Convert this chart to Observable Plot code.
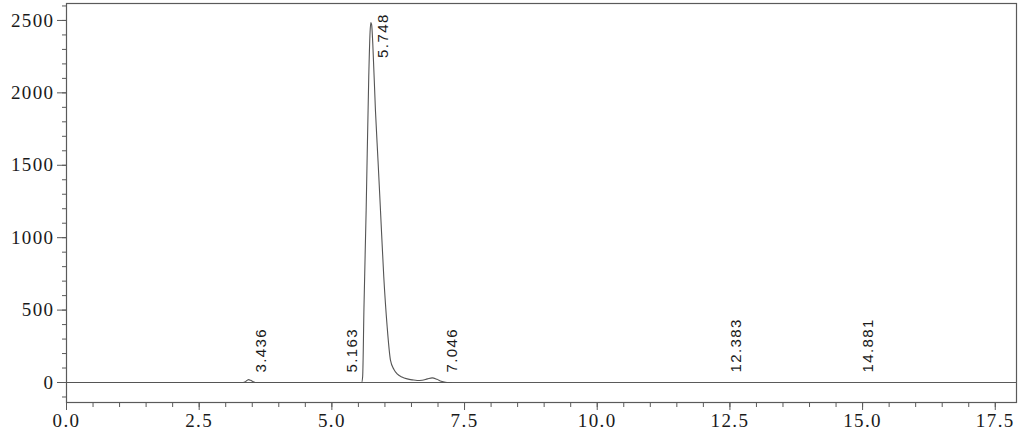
<!DOCTYPE html>
<html>
<head>
<meta charset="utf-8">
<script src="https://cdn.jsdelivr.net/npm/d3@7"></script>
<script src="https://cdn.jsdelivr.net/npm/@observablehq/plot@0.6"></script>
<style>
  html, body { margin: 0; padding: 0; background: #ffffff; }
  #chart svg text { letter-spacing: 1.4px; }
  #chart svg g[aria-label="x-axis tick label"],
  #chart svg g[aria-label="y-axis tick label"] {
    font-family: "Liberation Serif", "DejaVu Serif", serif !important;
    font-size: 19px !important;
  }
</style>
</head>
<body>
<div id="chart"></div>
<script>
// Chromatogram trace: retention time (min) and detector signal
const times  = [0.00, 3.30, 3.36, 3.40, 3.43, 3.47, 3.52, 3.58, 5.56, 5.58, 5.605, 5.646, 5.695, 5.72, 5.735, 5.75, 5.771, 5.821, 5.87, 5.916, 5.978, 6.042, 6.104, 6.17, 6.23, 6.32, 6.42, 6.52, 6.607, 6.70, 6.80, 6.89, 6.98, 7.06, 7.17, 7.25];
const signal = [0,    0,    4,    14,   20,   15,   5,    0,    0,    40,   520,   1190,  2110,  2420, 2485,  2470, 2340,  1880,  1530, 1190,  730,   385,   155,   90,   60,   38,   25,   18,   14,    16,   25,   32,   22,   8,    0,    0];

// Peak annotations (retention times)
const peakTimes  = [3.436, 5.163, 5.748, 7.046, 12.383, 14.881];
const peakLabels = ["3.436", "5.163", "5.748", "7.046", "12.383", "14.881"];
const mainPeakTime = 5.748;
const mainPeakHeight = 2480;

// Axis ticks
const xMajorTicks = [0, 2.5, 5, 7.5, 10, 12.5, 15, 17.5];
const xMinorTicks = d3.range(0, 17.51, 0.5);
const yMajorTicks = [0, 500, 1000, 1500, 2000, 2500];
const yMinorTicks = d3.range(-100, 2601, 100);

const trace = times.map((t, i) => ({t, v: signal[i]}));
const smallPeaks = peakTimes
  .map((t, i) => ({t, label: peakLabels[i]}))
  .filter(d => d.t !== mainPeakTime);
const mainPeak = [{t: mainPeakTime, v: mainPeakHeight, label: peakLabels[peakTimes.indexOf(mainPeakTime)]}];

const ink = "#5a5a5a";
const serif = "Liberation Serif";
const sans = "Liberation Sans";

const chart = Plot.plot({
  width: 1024,
  height: 438,
  marginLeft: 66,
  marginRight: 8,
  marginTop: 3,
  marginBottom: 36,
  x: {domain: [0, 17.9]},
  y: {domain: [-138, 2617]},
  style: {
    background: "#ffffff",
    color: "#1a1a1a",
    fontFamily: serif,
    fontSize: "19px"
  },
  marks: [
    Plot.frame({stroke: ink, strokeWidth: 1.2}),
    Plot.ruleY([0], {stroke: ink, strokeWidth: 1.2}),
    Plot.axisX({ticks: xMinorTicks, tickSize: 5, tickFormat: () => "", label: null, stroke: ink}),
    Plot.axisX({ticks: xMajorTicks, tickSize: 8, tickPadding: 3, tickFormat: d => d.toFixed(1), label: null, stroke: ink, fill: "#1a1a1a"}),
    Plot.axisY({ticks: yMinorTicks, tickSize: 4, tickFormat: () => "", label: null, stroke: ink}),
    Plot.axisY({ticks: yMajorTicks, tickSize: 9, tickPadding: 3, tickFormat: d => String(d), label: null, stroke: ink, fill: "#1a1a1a"}),
    Plot.line(trace, {x: "t", y: "v", stroke: "#555", strokeWidth: 1.1, curve: "monotone-x"}),
    Plot.text(smallPeaks, {
      x: "t", y: () => 0, text: "label", rotate: -90, textAnchor: "start",
      dx: 12, dy: -10, fontFamily: sans, fontSize: 15, fill: "#1a1a1a"
    }),
    Plot.text(mainPeak, {
      x: "t", y: "v", text: "label", rotate: -90, textAnchor: "end",
      dx: 12, dy: -10, fontFamily: sans, fontSize: 15, fill: "#1a1a1a"
    })
  ]
});

document.getElementById("chart").appendChild(chart);
</script>
</body>
</html>
